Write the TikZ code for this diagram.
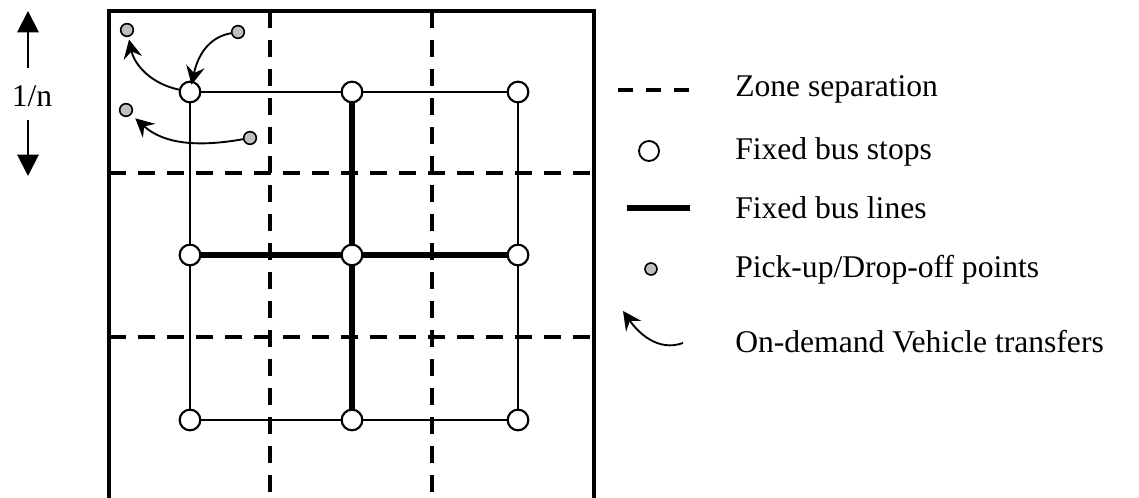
\documentclass[tikz,border=0pt]{standalone}
\usepackage{fontspec}
\setmainfont{Liberation Serif}
\usetikzlibrary{arrows.meta}
\begin{document}
\begin{tikzpicture}[x=0.75pt,y=0.75pt,
  stop/.style={circle,draw,fill=white,line width=1.6pt,inner sep=0pt,minimum size=15.5pt},
  pt/.style={circle,draw,fill=black!25,line width=1.2pt,inner sep=0pt,minimum size=9.5pt},
  thinline/.style={line width=1.6pt},
  thickline/.style={line width=3.8pt},
  zone/.style={line width=3.2pt,dash pattern=on 12.75pt off 9pt},
  transfer/.style={line width=1.4pt,-{Stealth[length=14pt,width=14pt,inset=5pt]}},
  bigarrow/.style={line width=1.5pt,-{Triangle[length=16pt,width=16pt]}},
  lab/.style={anchor=base west,inner sep=0pt,font=\fontsize{23.7}{28}\selectfont}
]
\useasboundingbox (0,0) rectangle (1139,498);
% outer square (bottom edge lies below the picture)
\draw[line width=2.4pt] (109,-4) rectangle (594,487);
% zone separation
\draw[zone] (270,487) -- (270,0);
\draw[zone] (432,487) -- (432,0);
\draw[zone] (109,325) -- (594,325);
\draw[zone] (109,161) -- (594,161);
% stops
\foreach \c/\x in {1/190,2/352,3/518}{
  \node[stop] (s1\c) at (\x,406) {};
  \node[stop] (s2\c) at (\x,243) {};
  \node[stop] (s3\c) at (\x,78) {};
}
% bus lines
\draw[thinline] (s11) -- (s12) -- (s13);
\draw[thinline] (s31) -- (s32) -- (s33);
\draw[thinline] (s11) -- (s21) -- (s31);
\draw[thinline] (s13) -- (s23) -- (s33);
\draw[thickline] (s21) -- (s22) -- (s23);
\draw[thickline] (s12) -- (s22) -- (s32);
% pick-up / drop-off points
\node[pt] (p1) at (127,468) {};
\node[pt] (p2) at (238,466) {};
\node[pt] (p3) at (126,388) {};
\node[pt] (p4) at (250,360) {};
% transfers
\draw[transfer,shorten >=-3pt] (p2) to[out=190,in=78] (s11);
\draw[transfer,shorten >=2pt] (s11) to[out=168,in=-78] (p1);
\draw[transfer,shorten >=4pt] (p4) to[out=190,in=-42] (p3);
% 1/n
\node[anchor=base,inner sep=0pt,font=\fontsize{23.7}{28}\selectfont] (n) at (32,391) {1/n};
\coordinate (ua) at (28,430);
\coordinate (ut) at (28,487);
\coordinate (da) at (28,378);
\coordinate (dt) at (28,322);
\draw[bigarrow] (ua) -- (ut);
\draw[bigarrow] (da) -- (dt);
% legend
\coordinate (z1) at (618,408);
\coordinate (z2) at (692,408);
\draw[line width=3.2pt,dash pattern=on 11.25pt off 9.75pt] (z1) -- (z2);
\node[stop,line width=1.4pt,minimum size=15pt] (ls) at (649,347) {};
\coordinate (l1) at (627,290);
\coordinate (l2) at (690,290);
\draw[thickline] (l1) -- (l2);
\node[pt,minimum size=9pt] (lp) at (651,229) {};
\coordinate (la1) at (683,155);
\coordinate (la2) at (623,187);
\draw[transfer] (la1) to[out=200,in=-55] (la2);
\node[lab] (t1) at (735,401) {Zone separation};
\node[lab] (t2) at (735,338) {Fixed bus stops};
\node[lab] (t3) at (735,279) {Fixed bus lines};
\node[lab] (t4) at (735,220) {Pick-up/Drop-off points};
\node[lab] (t5) at (735,145) {On-demand Vehicle transfers};
\end{tikzpicture}
\end{document}
